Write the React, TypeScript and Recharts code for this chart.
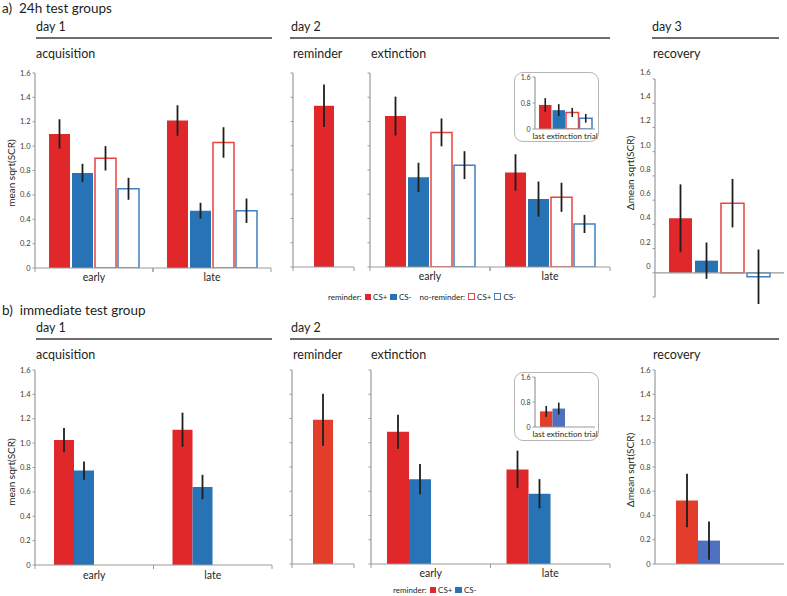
import React from 'react';
import { BarChart, Bar, XAxis, YAxis, ErrorBar, ReferenceLine } from 'recharts';

// ---------- data ----------
const phases = ['early', 'late'];
const singleCat = [''];
const insetCat = ['last extinction trial'];
const yTicks = [0, 0.2, 0.4, 0.6, 0.8, 1.0, 1.2, 1.4, 1.6];
const yTicksRec24 = [-0.2, 0, 0.2, 0.4, 0.6, 0.8, 1.0, 1.2, 1.4, 1.6];
const insetTicks = [0, 0.8, 1.6];

// a) 24h test groups — day 1 acquisition
const acq24RemCSp = [1.1, 1.21];
const acq24RemCSpErr = [0.12, 0.125];
const acq24RemCSm = [0.78, 0.47];
const acq24RemCSmErr = [0.075, 0.065];
const acq24NoRemCSp = [0.9, 1.03];
const acq24NoRemCSpErr = [0.1, 0.125];
const acq24NoRemCSm = [0.65, 0.47];
const acq24NoRemCSmErr = [0.09, 0.1];
// day 2 reminder
const rem24CSp = [1.33];
const rem24CSpErr = [0.175];
// day 2 extinction
const ext24RemCSp = [1.245, 0.78];
const ext24RemCSpErr = [0.16, 0.15];
const ext24RemCSm = [0.74, 0.56];
const ext24RemCSmErr = [0.12, 0.145];
const ext24NoRemCSp = [1.11, 0.575];
const ext24NoRemCSpErr = [0.115, 0.12];
const ext24NoRemCSm = [0.84, 0.355];
const ext24NoRemCSmErr = [0.115, 0.075];
// inset: last extinction trial [rem CS+, rem CS-, no-rem CS+, no-rem CS-]
const last24 = [0.74, 0.58, 0.51, 0.33];
const last24Err = [0.21, 0.185, 0.14, 0.135];
// day 3 recovery [rem CS+, rem CS-, no-rem CS+, no-rem CS-]
const rec24 = [0.45, 0.1, 0.575, -0.033];
const rec24Err = [0.28, 0.15, 0.2, 0.225];

// b) immediate test group
const acqImmRemCSp = [1.025, 1.11];
const acqImmRemCSpErr = [0.1, 0.14];
const acqImmRemCSm = [0.775, 0.64];
const acqImmRemCSmErr = [0.075, 0.1];
const remImmCSp = [1.19];
const remImmCSpErr = [0.215];
const extImmRemCSp = [1.09, 0.78];
const extImmRemCSpErr = [0.14, 0.155];
const extImmRemCSm = [0.7, 0.58];
const extImmRemCSmErr = [0.125, 0.12];
const lastImm = [0.5, 0.59];
const lastImmErr = [0.175, 0.19];
const recImm = [0.524, 0.193];
const recImmErr = [0.22, 0.157];

// ---------- styles ----------
const FONT = 'Lato, "Open Sans", sans-serif';
const TXT = '#231f20';
const AXIS = '#9a9a9a';
const RED = '#e0282b';
const BLUE = '#2872b6';
const RED2 = '#e33d2c';
const BLUE2 = '#4d71be';
const ERR = '#1e1e1e';

type Arr = (number | null)[] | undefined;
const pick = (a: Arr, i: number) => (a && a[i] !== undefined ? a[i] : null);

function rows(cats: string[], rp: Arr, rpE: Arr, rm?: Arr, rmE?: Arr, np?: Arr, npE?: Arr, nm?: Arr, nmE?: Arr) {
  return cats.map((cat, i) => ({
    cat,
    rp: pick(rp, i), rpE: pick(rpE, i),
    rm: pick(rm, i), rmE: pick(rmE, i),
    np: pick(np, i), npE: pick(npE, i),
    nm: pick(nm, i), nmE: pick(nmE, i),
  }));
}
function rowsGroup(cat: string, v: number[], e: number[]) {
  return [{
    cat,
    rp: v[0] ?? null, rpE: e[0] ?? null,
    rm: v[1] ?? null, rmE: e[1] ?? null,
    np: v[2] ?? null, npE: e[2] ?? null,
    nm: v[3] ?? null, nmE: e[3] ?? null,
  }];
}

type S = { key: string; fill: string; stroke?: string; err: boolean };
const four = (red: string, blue: string, outline: boolean): S[] => [
  { key: 'rp', fill: red, err: true },
  { key: 'rm', fill: blue, err: true },
  { key: 'np', fill: '#ffffff', stroke: outline ? '#e8433f' : undefined, err: outline },
  { key: 'nm', fill: '#ffffff', stroke: outline ? '#3f7fc4' : undefined, err: outline },
];

const fmt = (v: number) => (Math.abs(v) < 1e-9 ? '0' : v.toFixed(1));

type PanelProps = {
  x0: number; x1: number; yTop: number; yBot: number;
  data: any[]; series: S[]; domain: [number, number]; ticks: number[];
  yLabels: boolean; yLabelDy?: number; yFs?: number; ySize?: number;
  barSize: number; barGap: number;
  xFs?: number; xDy?: number; xLines?: boolean; xAxisLine?: boolean; zeroLine?: boolean;
  errW?: number;
};

function Panel(p: PanelProps) {
  const W = 40, mt = 12, mr = 6, xH = 24;
  const plotW = p.x1 - p.x0;
  const width = plotW + W + mr;
  const height = p.yBot - p.yTop + mt + xH;
  const half = plotW / p.data.length / 2;
  const yFs = p.yFs ?? 7.5;
  const xFs = p.xFs ?? 10.5;
  const xDy = p.xDy ?? 12.5;
  const yDy = p.yLabelDy ?? 0;
  const xTick = (props: any) => {
    const { x, y, payload } = props;
    return (
      <g>
        {p.xLines !== false && <line x1={x - half} x2={x - half} y1={y} y2={y + 4} stroke={AXIS} />}
        {p.xLines !== false && <line x1={x + half} x2={x + half} y1={y} y2={y + 4} stroke={AXIS} />}
        <text x={x} y={y + xDy} textAnchor="middle" fontSize={xFs} fill={TXT} fontFamily={FONT}>
          {payload.value}
        </text>
      </g>
    );
  };
  const yTick = (props: any) => {
    const { x, y, payload } = props;
    if (!p.yLabels || payload.value < -1e-9) return <g />;
    return (
      <text x={x} y={y + yDy} textAnchor="end" dominantBaseline="central" fontSize={yFs} fill="#3a3a3a" fontFamily={FONT}>
        {fmt(payload.value)}
      </text>
    );
  };
  return (
    <div style={{ position: 'absolute', left: p.x0 - W, top: p.yTop - mt }}>
      <BarChart
        width={width}
        height={height}
        data={p.data}
        margin={{ top: mt, right: mr, bottom: 0, left: 0 }}
        barSize={p.barSize}
        barGap={p.barGap}
      >
        <XAxis
          dataKey="cat"
          height={xH}
          tickLine={false}
          tickSize={0}
          tickMargin={0}
          axisLine={p.xAxisLine === false ? false : { stroke: AXIS, strokeWidth: 1.2 }}
          tick={xTick}
          interval={0}
        />
        <YAxis
          type="number"
          width={W}
          domain={p.domain}
          ticks={p.ticks}
          interval={0}
          allowDataOverflow
          tickSize={p.ySize ?? 2.5}
          tickMargin={2}
          axisLine={{ stroke: AXIS, strokeWidth: 1.2 }}
          tickLine={{ stroke: AXIS }}
          tick={yTick}
        />
        {p.zeroLine && <ReferenceLine y={0} stroke={AXIS} strokeWidth={1.2} ifOverflow="extendDomain" />}
        {p.series.map((s) => (
          <Bar
            key={s.key}
            dataKey={s.key}
            fill={s.fill}
            stroke={s.stroke}
            strokeWidth={s.stroke ? 1.5 : 0}
            isAnimationActive={false}
          >
            {s.err && <ErrorBar dataKey={s.key + 'E'} width={0} stroke={ERR} strokeWidth={p.errW ?? 1.8} />}
          </Bar>
        ))}
      </BarChart>
    </div>
  );
}

function T({ x, cy, fs, children, color }: { x: number; cy: number; fs: number; children: any; color?: string }) {
  return (
    <div
      style={{
        position: 'absolute', left: x, top: cy - fs * 0.6, fontSize: fs, lineHeight: `${fs * 1.2}px`,
        whiteSpace: 'nowrap', color: color ?? TXT, fontFamily: FONT,
      }}
    >
      {children}
    </div>
  );
}
function HLine({ x0, x1, y }: { x0: number; x1: number; y: number }) {
  return <div style={{ position: 'absolute', left: x0, top: y - 1, width: x1 - x0, height: 2, background: '#6d6d6d' }} />;
}
function VLabel({ cx, cy, children }: { cx: number; cy: number; children: any }) {
  return (
    <div
      style={{
        position: 'absolute', left: cx, top: cy, transform: 'translate(-50%, -50%) rotate(-90deg)',
        whiteSpace: 'nowrap', fontSize: 10, color: TXT, fontFamily: FONT,
      }}
    >
      {children}
    </div>
  );
}
function Sq({ fill, stroke }: { fill: string; stroke?: string }) {
  return (
    <span
      style={{
        display: 'inline-block', width: stroke ? 5 : 6.5, height: stroke ? 5 : 6.5, background: fill,
        border: stroke ? `1.3px solid ${stroke}` : 'none', margin: '0 2px 0 3px', verticalAlign: 'middle',
        position: 'relative', top: -1,
      }}
    />
  );
}
function InsetBox({ x0, x1, y0, y1 }: { x0: number; x1: number; y0: number; y1: number }) {
  return (
    <div
      style={{
        position: 'absolute', left: x0, top: y0, width: x1 - x0, height: y1 - y0,
        border: '1.2px solid #b5b5b5', borderRadius: 9, background: '#fff', boxSizing: 'border-box',
      }}
    />
  );
}

export default function App() {
  const acq24 = rows(phases, acq24RemCSp, acq24RemCSpErr, acq24RemCSm, acq24RemCSmErr, acq24NoRemCSp, acq24NoRemCSpErr, acq24NoRemCSm, acq24NoRemCSmErr);
  const rem24 = rows(singleCat, rem24CSp, rem24CSpErr);
  const ext24 = rows(phases, ext24RemCSp, ext24RemCSpErr, ext24RemCSm, ext24RemCSmErr, ext24NoRemCSp, ext24NoRemCSpErr, ext24NoRemCSm, ext24NoRemCSmErr);
  const lst24 = rowsGroup(insetCat[0], last24, last24Err);
  const rc24 = rowsGroup('', rec24, rec24Err);

  const acqImm = rows(phases, acqImmRemCSp, acqImmRemCSpErr, acqImmRemCSm, acqImmRemCSmErr);
  const remImm = rows(singleCat, remImmCSp, remImmCSpErr);
  const extImm = rows(phases, extImmRemCSp, extImmRemCSpErr, extImmRemCSm, extImmRemCSmErr);
  const lstImm = rowsGroup(insetCat[0], lastImm, lastImmErr);
  const rcImm = rowsGroup('', recImm, recImmErr);

  const single: S[] = [{ key: 'rp', fill: RED, err: true }];
  const singleB: S[] = [{ key: 'rp', fill: RED2, err: true }];

  return (
    <div style={{ position: 'absolute', left: 0, top: 0, width: 787, height: 596, background: '#fff', fontFamily: FONT, overflow: 'hidden' }}>
      {/* ---- a) headers ---- */}
      <T x={2} cy={8} fs={13.5}>a)&nbsp;&nbsp;24h test groups</T>
      <T x={36} cy={26} fs={12.5}>day 1</T>
      <HLine x0={36} x1={272} y={38} />
      <T x={36} cy={53} fs={12.5}>acquisition</T>
      <T x={291} cy={26} fs={12.5}>day 2</T>
      <HLine x0={290} x1={610} y={38} />
      <T x={293} cy={53} fs={12.5}>reminder</T>
      <T x={371} cy={53} fs={12.5}>extinction</T>
      <T x={652} cy={26} fs={12.5}>day 3</T>
      <HLine x0={652} x1={779} y={38} />
      <T x={653} cy={53} fs={12.5}>recovery</T>

      <VLabel cx={11} cy={173}>mean sqrt(SCR)</VLabel>
      <Panel x0={35} x1={271} yTop={73} yBot={268} data={acq24} series={four(RED, BLUE, true)} domain={[0, 1.6]} ticks={yTicks} yLabels barSize={21} barGap={2} />
      <Panel x0={293} x1={354} yTop={73} yBot={267} data={rem24} series={single} domain={[0, 1.6]} ticks={yTicks} yLabels={false} barSize={20} barGap={0} />
      <Panel x0={370} x1={610} yTop={73} yBot={267} data={ext24} series={four(RED, BLUE, true)} domain={[0, 1.6]} ticks={yTicks} yLabels={false} barSize={21} barGap={2} />
      <InsetBox x0={514} x1={599} y0={72} y1={142} />
      <Panel x0={535} x1={595} yTop={77} yBot={129} data={lst24} series={four(RED, BLUE, true)} domain={[0, 1.6]} ticks={insetTicks} yLabels yFs={7} barSize={12.5} barGap={1} xFs={8} xDy={9.5} xLines={false} errW={1.6} />

      <VLabel cx={630} cy={173}>Δmean sqrt(SCR)</VLabel>
      <Panel x0={655} x1={784} yTop={79} yBot={297} data={rc24} series={four(RED, BLUE, true)} domain={[-0.2, 1.6]} ticks={yTicksRec24} yLabels yLabelDy={-6.5} barSize={23} barGap={3} xLines={false} xAxisLine={false} zeroLine />

      {/* legend a */}
      <div style={{ position: 'absolute', left: 328, top: 291, fontSize: 8, lineHeight: '12px', color: TXT, fontFamily: FONT, whiteSpace: 'nowrap' }}>
        reminder:<Sq fill={RED} />CS+<Sq fill={BLUE} />CS-<span style={{ display: 'inline-block', width: 8 }} />no-reminder:<Sq fill="#fff" stroke="#e8433f" />CS+<Sq fill="#fff" stroke="#3f7fc4" />CS-
      </div>

      {/* ---- b) headers ---- */}
      <T x={2} cy={310} fs={13.5}>b)&nbsp;&nbsp;immediate test group</T>
      <T x={36} cy={327} fs={12.5}>day 1</T>
      <HLine x0={36} x1={272} y={339} />
      <T x={36} cy={354} fs={12.5}>acquisition</T>
      <T x={291} cy={327} fs={12.5}>day 2</T>
      <HLine x0={290} x1={779} y={339} />
      <T x={293} cy={354} fs={12.5}>reminder</T>
      <T x={371} cy={354} fs={12.5}>extinction</T>
      <T x={653} cy={354} fs={12.5}>recovery</T>

      <VLabel cx={11} cy={472}>mean sqrt(SCR)</VLabel>
      <Panel x0={35} x1={272} yTop={370} yBot={565} data={acqImm} series={four(RED, BLUE, false)} domain={[0, 1.6]} ticks={yTicks} yLabels barSize={20} barGap={0} xDy={14} />
      <Panel x0={292} x1={354} yTop={370} yBot={564} data={remImm} series={singleB} domain={[0, 1.6]} ticks={yTicks} yLabels={false} barSize={20} barGap={0} />
      <Panel x0={371} x1={610} yTop={370} yBot={564} data={extImm} series={four(RED, BLUE, false)} domain={[0, 1.6]} ticks={yTicks} yLabels={false} barSize={22} barGap={0} xDy={13} />
      <InsetBox x0={514} x1={599} y0={372} y1={441} />
      <Panel x0={535} x1={595} yTop={377} yBot={427} data={lstImm} series={four(RED2, BLUE2, false)} domain={[0, 1.6]} ticks={insetTicks} yLabels yFs={7} barSize={12.5} barGap={0} xFs={8} xDy={9.5} xLines={false} errW={1.6} />

      <VLabel cx={630} cy={470}>Δmean sqrt(SCR)</VLabel>
      <Panel x0={655} x1={784} yTop={370} yBot={564} data={rcImm} series={four(RED2, BLUE2, false)} domain={[0, 1.6]} ticks={yTicks} yLabels barSize={22} barGap={0} xLines={false} />

      {/* legend b */}
      <div style={{ position: 'absolute', left: 393, top: 584, fontSize: 8, lineHeight: '12px', color: TXT, fontFamily: FONT, whiteSpace: 'nowrap' }}>
        reminder:<Sq fill={RED} />CS+<Sq fill={BLUE} />CS-
      </div>
    </div>
  );
}
